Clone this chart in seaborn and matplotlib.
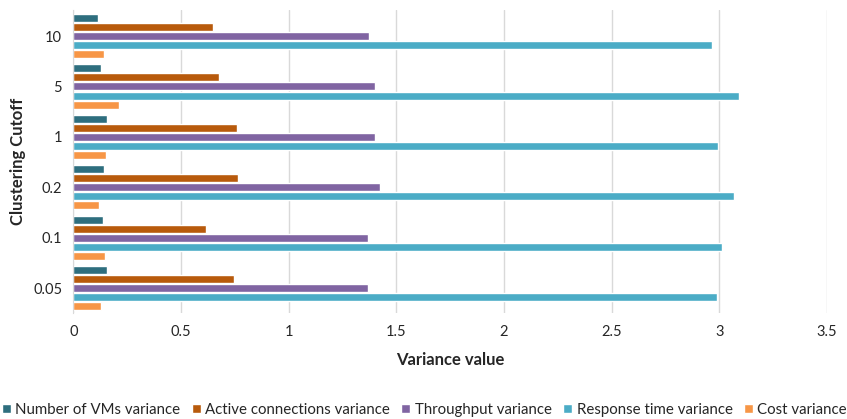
import pandas as pd
import matplotlib.pyplot as plt
import seaborn as sns

cutoffs = ['10', '5', '1', '0.2', '0.1', '0.05']
series = ['Number of VMs variance', 'Active connections variance', 'Throughput variance',
          'Response time variance', 'Cost variance']
vms = [0.116, 0.130, 0.157, 0.144, 0.139, 0.157]
active = [0.650, 0.677, 0.762, 0.766, 0.616, 0.745]
throughput = [1.373, 1.400, 1.400, 1.426, 1.369, 1.369]
response = [2.965, 3.093, 2.993, 3.067, 3.014, 2.991]
cost = [0.143, 0.214, 0.152, 0.118, 0.149, 0.129]
colors = ['#2E6E7E', '#B85A0C', '#8064A2', '#4BACC6', '#F79646']

rows = []
for name, vals in zip(series, [vms, active, throughput, response, cost]):
    for c, v in zip(cutoffs, vals):
        rows.append({'cutoff': c, 'series': name, 'value': v})
df = pd.DataFrame(rows)

sns.set_style('white')
plt.rcParams['font.family'] = ['Lato', 'DejaVu Sans']

fig = plt.figure(figsize=(8.47, 4.19), dpi=100)
ax = fig.add_axes([0.0866, 0.252, 0.8898, 0.7246])

sns.barplot(data=df, y='cutoff', x='value', hue='series', order=cutoffs, hue_order=series,
            palette=colors, saturation=1, orient='h', width=0.9, gap=0.12, ax=ax, legend=True)

ax.set_xlim(0, 3.5)
ax.set_ylim(5.5, -0.52)
ax.set_xticks([0, 0.5, 1, 1.5, 2, 2.5, 3, 3.5])
ax.set_xticklabels(['0', '0.5', '1', '1.5', '2', '2.5', '3', '3.5'])
ax.grid(axis='x', color='#d9d9d9', linewidth=1)
ax.set_axisbelow(True)
for s in ['top', 'right', 'bottom']:
    ax.spines[s].set_visible(False)
ax.spines['left'].set_color('#d9d9d9')
ax.tick_params(axis='both', length=0, labelsize=10.5, colors='#262626', pad=8)
ax.set_xlabel('Variance value', fontsize=12, fontweight='bold', color='#262626', labelpad=10)
ax.set_ylabel('Clustering Cutoff', fontsize=12, fontweight='bold', color='#262626', labelpad=5)

ax.legend(loc='upper center', bbox_to_anchor=(0.466, -0.25), ncol=5, frameon=False,
          fontsize=10.8, handlelength=0.6, handleheight=0.6, handletextpad=0.3,
          columnspacing=0.75, labelcolor='#262626')

fig.savefig('out.png', dpi=100)
